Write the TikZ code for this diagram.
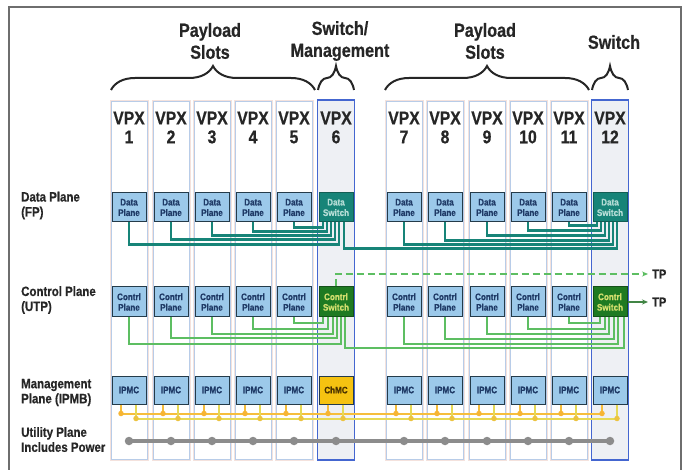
\documentclass[tikz,border=0pt]{standalone}
\usepackage{fontspec}
\setmainfont{Liberation Sans}[FakeStretch=0.85, BoldFont={Liberation Sans Bold}, BoldFeatures={FakeBold=0.6}]
\usetikzlibrary{decorations.pathreplacing,arrows.meta}
\definecolor{framec}{HTML}{6E6E6E}
\definecolor{slotblue}{HTML}{B8CCE8}
\definecolor{slotpink}{HTML}{F4E2DD}
\definecolor{swcol}{HTML}{4466D0}
\definecolor{swfill}{HTML}{EEF0F4}
\definecolor{boxblue}{HTML}{9CC9EA}
\definecolor{boxedge}{HTML}{243B4A}
\definecolor{boxtext}{HTML}{1F3A66}
\definecolor{tealc}{HTML}{178478}
\definecolor{tealdark}{HTML}{135E54}
\definecolor{tealtext}{HTML}{B5DDD6}
\definecolor{grn}{HTML}{5DBE62}
\definecolor{grndark}{HTML}{1E7A22}
\definecolor{grnedge}{HTML}{15501A}
\definecolor{grntext}{HTML}{D2DE6E}
\definecolor{chmcc}{HTML}{F5C211}
\definecolor{chmctext}{HTML}{4A3200}
\definecolor{busA}{HTML}{F6BE3C}
\definecolor{busB}{HTML}{E6D955}
\definecolor{utilc}{HTML}{8C8C8C}
\newcommand\myfs[2]{\fontsize{#1}{#2}\selectfont\bfseries}
\begin{document}
\begin{tikzpicture}[x=1pt,y=-1pt,
  slotbox/.style={draw=slotpink, line width=0.6pt, fill=white, minimum width=38pt, minimum height=360pt, inner sep=0pt},
  swslot/.style={draw=swcol, line width=1.1pt, fill=swfill, minimum width=37pt, minimum height=360pt, inner sep=0pt},
  pbox/.style={draw=boxedge, line width=1pt, fill=boxblue, minimum width=34pt, minimum height=29pt, inner sep=0pt, align=center, font=\myfs{9.5}{10.5}, text=boxtext},
  dsw/.style={pbox, fill=tealc, draw=tealdark, text=tealtext},
  csw/.style={pbox, fill=grndark, draw=grnedge, text=grntext},
  chmcbox/.style={pbox, fill=chmcc, text=chmctext},
  vpxlab/.style={align=center, font=\myfs{18.5}{19}, text=black!85, inner sep=0pt},
  toplab/.style={align=center, font=\myfs{19}{22}, text=black!85, inner sep=0pt},
  leftlab/.style={align=left, font=\myfs{13.5}{15}, text=black!85, inner sep=0pt, anchor=west},
  tplab/.style={font=\myfs{13}{14}, text=black!85, inner sep=0pt, anchor=west},
  bracec/.style={decorate, decoration={brace, amplitude=24pt, aspect=0.5}, line width=2pt, black!85},
  dline/.style={tealc, line width=2.3pt},
  cline/.style={grn, line width=2pt},
  aline/.style={busA, line width=2pt},
  bline/.style={busB, line width=2pt},
  adot/.style={circle, fill=busA!85!orange, inner sep=0pt, minimum size=5.5pt},
  bdot/.style={circle, fill=busB!75!orange, inner sep=0pt, minimum size=5.5pt},
  udot/.style={circle, fill=utilc, inner sep=0pt, minimum size=8.5pt}
]
\fill[white] (0,0) rectangle (688,470);
\useasboundingbox (0,0) rectangle (688,470);
\draw[framec, line width=2.2pt] (9,7) rectangle (681,480);

% slots
\foreach \i/\xx in {1/129,2/171,3/212,4/253,5/294,7/404,8/445,9/487,10/528,11/569}{
  \node[slotbox] (s\i) at (\xx,280) {};
  \draw[slotblue, line width=0.6pt] ([shift={(1.5pt,1.5pt)}]s\i.south west) rectangle ([shift={(-1.5pt,-1.5pt)}]s\i.north east);
}
\foreach \i/\xx in {6/336,12/610}{
  \node[swslot] (s\i) at (\xx,280) {};
}
% VPX labels
\foreach \i/\xx in {1/129,2/171,3/212,4/253,5/294,6/336,7/404,8/445,9/487,10/528,11/569,12/610}{
  \node[vpxlab] (v\i) at (\xx,127.5) {VPX\\\i};
}
% top labels and braces
\node[toplab] (t1) at (210,41) {Payload\\Slots};
\node[toplab] (t2) at (340,41) {Switch/\\Management};
\node[toplab] (t3) at (485,41) {Payload\\Slots};
\node[toplab] (t4) at (614,42) {Switch};
\draw[bracec] (111,90) -- (315,90);
\draw[bracec] (318,90) -- (354,90);
\draw[bracec] (385,90) -- (589,90);
\draw[bracec] (592,90) -- (628,90);

% left labels
\node[leftlab] (l1) at (21,205.5) {Data Plane\\(FP)};
\node[leftlab] (l2) at (21,300) {Control Plane\\(UTP)};
\node[leftlab] (l3) at (21,392.5) {Management\\Plane (IPMB)};
\node[leftlab] (l4) at (21,439.5) {Utility Plane\\Includes Power};

% boxes
\foreach \i/\xx in {1/129,2/171,3/212,4/253,5/294,7/404,8/445,9/487,10/528,11/569}{
  \node[pbox] (dp\i) at (\xx,207.5) {Data\\Plane};
  \node[pbox, minimum height=30pt] (cp\i) at (\xx,302) {Contrl\\Plane};
  \node[pbox, minimum height=28pt] (mg\i) at (\xx,390) {IPMC};
}
\foreach \i/\xx in {12/610}{
  \node[pbox, minimum height=28pt] (mg\i) at (\xx,390) {IPMC};
}
\foreach \i/\xx in {6/336,12/610}{
  \node[dsw] (dp\i) at (\xx,207.5) {Data\\Switch};
  \node[csw, minimum height=30pt] (cp\i) at (\xx,302) {Contrl\\Switch};
}
\node[chmcbox, minimum height=28pt] (mg6) at (336,390) {ChMC};

% data plane connections
\draw[dline] (dp5.south) -- ++(0,5) -| ([xshift=-13pt]dp6.south);
\draw[dline] (dp4.south) -- ++(0,9) -| ([xshift=-9pt]dp6.south);
\draw[dline] (dp3.south) -- ++(0,13) -| ([xshift=-5pt]dp6.south);
\draw[dline] (dp2.south) -- ++(0,17) -| ([xshift=-1pt]dp6.south);
\draw[dline] (dp1.south) -- ++(0,22) -| ([xshift=3pt]dp6.south);
\draw[dline] ([xshift=8pt]dp6.south) -- ++(0,26) -| ([xshift=7pt]dp12.south);
\draw[dline] (dp11.south) -- ++(0,3) -| ([xshift=-13pt]dp12.south);
\draw[dline] (dp10.south) -- ++(0,8) -| ([xshift=-9pt]dp12.south);
\draw[dline] (dp9.south) -- ++(0,13) -| ([xshift=-5pt]dp12.south);
\draw[dline] (dp8.south) -- ++(0,18) -| ([xshift=-1pt]dp12.south);
\draw[dline] (dp7.south) -- ++(0,22) -| ([xshift=3pt]dp12.south);

% control plane connections
\draw[cline] (cp5.south) -- ++(0,6) -| ([xshift=-13pt]cp6.south);
\draw[cline] (cp4.south) -- ++(0,11) -| ([xshift=-8pt]cp6.south);
\draw[cline] (cp3.south) -- ++(0,16) -| ([xshift=-3pt]cp6.south);
\draw[cline] (cp2.south) -- ++(0,20) -| ([xshift=1pt]cp6.south);
\draw[cline] (cp1.south) -- ++(0,26) -| ([xshift=5pt]cp6.south);
\draw[cline] ([xshift=9pt]cp6.south) -- ++(0,30) -| ([xshift=14pt]cp12.south);
\draw[cline] (cp11.south) -- ++(0,6) -| ([xshift=-10pt]cp12.south);
\draw[cline] (cp10.south) -- ++(0,11) -| ([xshift=-5pt]cp12.south);
\draw[cline] (cp9.south) -- ++(0,16) -| ([xshift=-1pt]cp12.south);
\draw[cline] (cp8.south) -- ++(0,21) -| ([xshift=4pt]cp12.south);
\draw[cline] (cp7.south) -- ++(0,26) -| ([xshift=8pt]cp12.south);

% TP arrows
\coordinate (tp1) at (648,274);
\coordinate (tp2) at (648,302);
\draw[cline, dash pattern=on 7pt off 4pt, -{Stealth[length=6pt,width=5pt]}] (cp6.north) |- (tp1);
\draw[cline, draw=grn!70!black, -{Stealth[length=6pt,width=5pt]}] (cp12.east) -- (tp2);
\node[tplab] (tpl1) at ([xshift=4pt]tp1) {TP};
\node[tplab] (tpl2) at ([xshift=4pt]tp2) {TP};

% management bus
\draw[aline] ([xshift=-8pt,yshift=-9pt]mg1.south) -- ([xshift=-8pt,yshift=-9pt]mg12.south);
\draw[bline] ([xshift=7pt,yshift=-14pt]mg1.south) -- ([xshift=7pt,yshift=-14pt]mg12.south);
\foreach \i in {1,...,12}{
  \draw[aline] ([xshift=-8pt]mg\i.south) -- ++(0,9) node[adot] (ad\i) {};
  \draw[bline] ([xshift=7pt]mg\i.south) -- ++(0,14) node[bdot] (bd\i) {};
}

% utility plane
\foreach \i/\xx in {1/129,2/171,3/212,4/253,5/294,6/336,7/404,8/445,9/487,10/528,11/569,12/610}{
  \node[udot] (u\i) at (\xx,441) {};
}
\draw[utilc, line width=3.8pt] (u1.center) -- (u12.center);
\end{tikzpicture}
\end{document}
